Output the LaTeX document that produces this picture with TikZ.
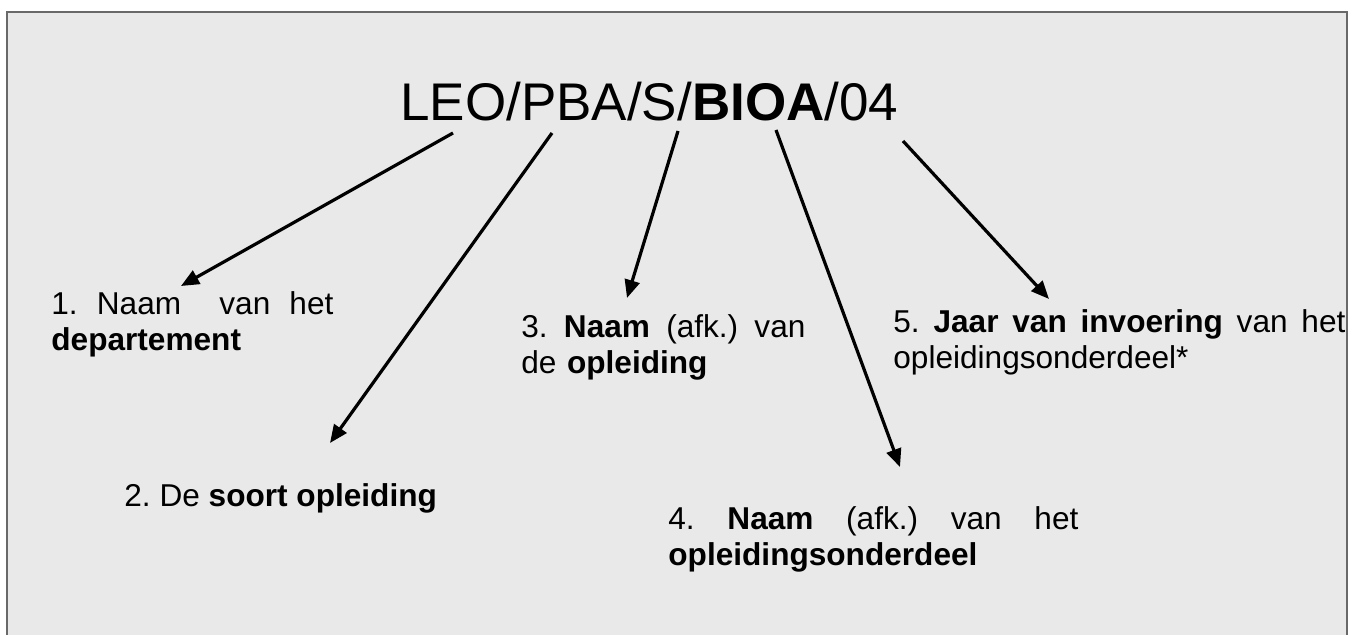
\documentclass[tikz,border=0pt]{standalone}
\usepackage{fontspec}
\setmainfont{Liberation Sans}
\usetikzlibrary{arrows.meta}

\definecolor{boxfill}{RGB}{233,233,233}
\definecolor{boxline}{RGB}{105,105,105}
% first line of a justified item, stretched to the full width
\newcommand{\fullline}[2]{\hbox to #1{\spaceskip=\fontdimen2\font plus 1fil\relax #2}}

\tikzset{
  pointer/.style={-{Triangle[length=9pt,width=7.5pt]}, line width=1.6pt},
  itemtext/.style={anchor=base west, inner sep=0pt, align=left,
    font=\fontsize{15.8}{18}\selectfont\frenchspacing}
}

\begin{document}
\begin{tikzpicture}[x=0.5pt,y=0.5pt,yscale=-1,xscale=1]
\useasboundingbox (0,0) rectangle (1365,635);
\clip (0,0) rectangle (1365,635);

%Shape: Rectangle [id:frame]
\draw [draw=boxline, line width=1pt, fill=boxfill] (7,12) rectangle (1347,660);

% Text Node
\node (code) [anchor=base west, inner sep=0pt, font=\fontsize{26.5}{30}\selectfont] at (400,121) {LEO/PBA/S/\textbf{BIOA}/04};
% Text Node
\node (dep) [itemtext, text width=141pt] at (51,315) {\fullline{141pt}{1. Naam\ \ van het}\\\textbf{departement}};
% Text Node
\node (soort) [itemtext] at (124,507) {2. De \textbf{soort opleiding}};
% Text Node
\node (opl) [itemtext, text width=142pt] at (521,338) {\fullline{142pt}{3. \textbf{Naam} (afk.) van}\\de \textbf{opleiding}};
% Text Node
\node (onderdeel) [itemtext, text width=205pt] at (668,530) {\fullline{205pt}{4. \textbf{Naam} (afk.) van het}\\\textbf{opleidingsonderdeel}};
% Text Node
\node (jaar) [itemtext, text width=226pt] at (893,333) {\fullline{226pt}{5. \textbf{Jaar van invoering} van het}\\opleidingsonderdeel*};

%Arrow ends
\coordinate (t1) at (453,133); \coordinate (h1) at (181,286);
\coordinate (t2) at (552,133); \coordinate (h2) at (330,443);
\coordinate (t3) at (678,131); \coordinate (h3) at (627,298);
\coordinate (t4) at (776,130); \coordinate (h4) at (900,467);
\coordinate (t5) at (903,141); \coordinate (h5) at (1049,299);

%Straight Lines
\foreach \i in {1,...,5}
  \draw [pointer] (t\i) -- (h\i);

\end{tikzpicture}
\end{document}
